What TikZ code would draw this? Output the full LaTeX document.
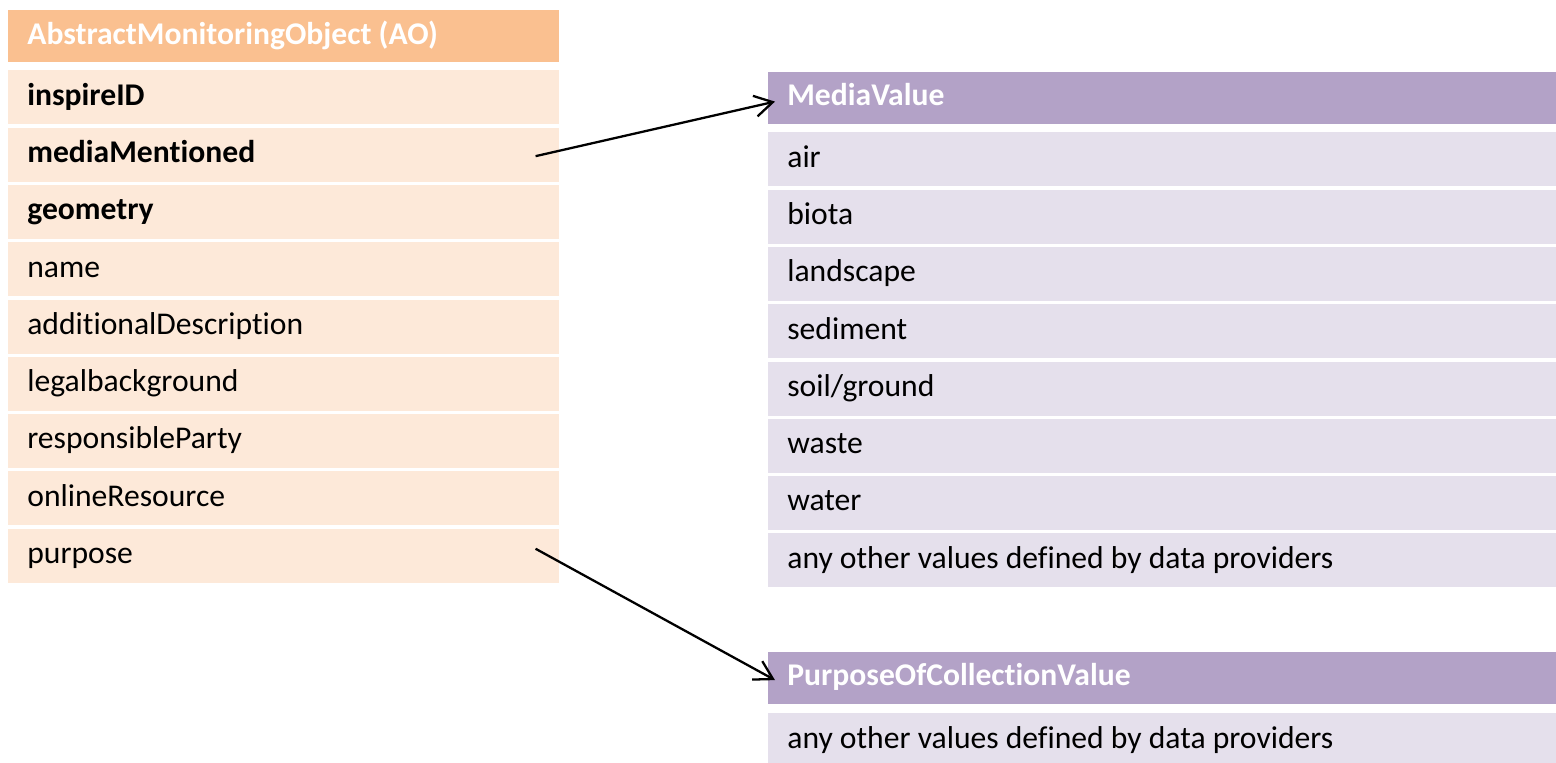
\documentclass[tikz,border=0pt]{standalone}
\usepackage{fontspec}
\setmainfont{Carlito}[Ligatures={NoCommon,NoContextual}]
\usetikzlibrary{arrows.meta}
\definecolor{aohead}{HTML}{FAC090}
\definecolor{aorow}{HTML}{FDE9D9}
\definecolor{cvhead}{HTML}{B3A2C7}
\definecolor{cvrow}{HTML}{E5E0EC}
\begin{document}
\begin{tikzpicture}[x=0.02cm,y=-0.02cm,>={Straight Barb[length=0.36cm,width=0.42cm]},
  cell/.style={anchor=north west,inner sep=0pt,inner xsep=0.38cm,align=flush left,
    text height=1.95ex,text depth=0.1ex,font=\fontsize{18}{21}\selectfont},
  aohd/.style={cell,fill=aohead,text=white,font=\fontsize{18}{21}\selectfont\bfseries,text width=10.26cm,minimum height=1.04cm},
  aocell/.style={cell,fill=aorow,text width=10.26cm,minimum height=1.08cm},
  cvhd/.style={cell,fill=cvhead,text=white,font=\fontsize{18}{21}\selectfont\bfseries,text width=15cm,minimum height=1.03cm},
  cvcell/.style={cell,fill=cvrow,text width=15cm,minimum height=1.08cm}]
\useasboundingbox (0,0) rectangle (1556,762);
\coordinate (A0) at (8,10);
\coordinate (A1) at (8,70);
\coordinate (A2) at (8,127.3);
\coordinate (A3) at (8,184.6);
\coordinate (A4) at (8,241.9);
\coordinate (A5) at (8,299.2);
\coordinate (A6) at (8,356.5);
\coordinate (A7) at (8,413.8);
\coordinate (A8) at (8,471.1);
\coordinate (A9) at (8,528.4);
\coordinate (M0) at (768,72);
\coordinate (M1) at (768,132);
\coordinate (M2) at (768,189.3);
\coordinate (M3) at (768,246.6);
\coordinate (M4) at (768,303.9);
\coordinate (M5) at (768,361.2);
\coordinate (M6) at (768,418.5);
\coordinate (M7) at (768,475.8);
\coordinate (M8) at (768,533.1);
\coordinate (P0) at (768,652);
\coordinate (P1) at (768,713);
% AbstractMonitoringObject
\node[aohd] (ao) at (A0) {AbstractMonitoringObject (AO)};
\node[aocell,font=\fontsize{18}{21}\selectfont\bfseries] (ins) at (A1) {inspireID};
\node[aocell,font=\fontsize{18}{21}\selectfont\bfseries] (med) at (A2) {mediaMentioned};
\node[aocell,font=\fontsize{18}{21}\selectfont\bfseries] (geo) at (A3) {geometry};
\node[aocell] (nam) at (A4) {name};
\node[aocell] (add) at (A5) {additionalDescription};
\node[aocell] (leg) at (A6) {legalbackground};
\node[aocell] (res) at (A7) {responsibleParty};
\node[aocell] (onl) at (A8) {onlineResource};
\node[aocell] (pur) at (A9) {purpose};
% MediaValue
\node[cvhd] (mv) at (M0) {MediaValue};
\node[cvcell] (air) at (M1) {air};
\node[cvcell] (bio) at (M2) {biota};
\node[cvcell] (lan) at (M3) {landscape};
\node[cvcell] (sed) at (M4) {sediment};
\node[cvcell] (soi) at (M5) {soil/ground};
\node[cvcell] (was) at (M6) {waste};
\node[cvcell] (wat) at (M7) {water};
\node[cvcell] (mvo) at (M8) {any other values defined by data providers};
% PurposeOfCollectionValue
\node[cvhd] (pv) at (P0) {PurposeOfCollectionValue};
\node[cvcell] (pvo) at (P1) {any other values defined by data providers};
\draw[->,line width=1.3pt] ([xshift=-0.48cm,yshift=-0.03cm]med.east) -- ([xshift=0.14cm,yshift=-0.07cm]mv.west);
\draw[->,line width=1.3pt] ([xshift=-0.48cm,yshift=0.14cm]pur.east) -- ([xshift=0.14cm,yshift=-0.04cm]pv.west);
\end{tikzpicture}
\end{document}
